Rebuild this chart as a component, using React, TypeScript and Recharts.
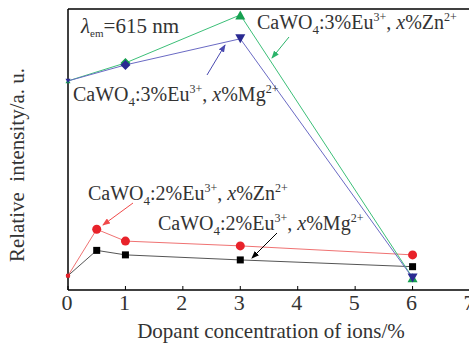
import React from 'react';
import { LineChart, Line, XAxis, YAxis, ReferenceLine } from 'recharts';

// x positions (dopant %, ions)
const xHigh = [0, 1, 3, 6];
const xLow = [0, 0.5, 1, 3, 6];
const xTicks = [0, 1, 2, 3, 4, 5, 6, 7];

// relative intensity (0..100 frame height)
const znHigh = [74.4, 80.8, 97.9, 4.4]; // CaWO4:3%Eu3+, x%Zn2+
const mgHigh = [74.4, 80.1, 89.4, 4.3]; // CaWO4:3%Eu3+, x%Mg2+
const znLow = [5.1, 21.6, 17.4, 15.7, 12.5]; // CaWO4:2%Eu3+, x%Zn2+
const mgLow = [5.1, 14.1, 12.5, 10.7, 8.3]; // CaWO4:2%Eu3+, x%Mg2+

const toRows = (xs: number[], ys: number[]) => xs.map((x, i) => ({ x, y: ys[i] }));

const FONT = '"Liberation Serif", "Times New Roman", serif';
const TEXT = '#333';

const W = 480;
const H = 346;
const margin = { top: 9, right: 10, bottom: 26, left: 68 };

type Shape = 'up' | 'down' | 'diamond' | 'circle' | 'square';

const Marker = ({ cx, cy, shape, fill, small }: { cx: number; cy: number; shape: Shape; fill: string; small?: boolean }) => {
  const s = small ? 0.5 : 1;
  if (shape === 'circle') return <circle cx={cx} cy={cy} r={4.5 * s} fill={fill} />;
  if (shape === 'square') return <rect x={cx - 3.5 * s} y={cy - 3.5 * s} width={7 * s} height={7 * s} fill={fill} />;
  if (shape === 'diamond') {
    const a = 5 * s;
    return <polygon points={`${cx},${cy - a} ${cx + a},${cy} ${cx},${cy + a} ${cx - a},${cy}`} fill={fill} />;
  }
  const w = 5 * s;
  const h = 4.5 * s;
  if (shape === 'up') return <polygon points={`${cx},${cy - h} ${cx + w},${cy + h} ${cx - w},${cy + h}`} fill={fill} />;
  return <polygon points={`${cx - w},${cy - h} ${cx + w},${cy - h} ${cx},${cy + h}`} fill={fill} />;
};

const makeDot = (base: Shape, fill: string, special?: { x: number; shape: Shape }) => (props: any) => {
  const { cx, cy, payload, index } = props;
  if (cx == null || cy == null) return <g key={index} />;
  const shape = special && payload.x === special.x ? special.shape : base;
  return (
    <g key={index}>
      <Marker cx={cx} cy={cy} shape={shape} fill={fill} small={payload.x === 0} />
    </g>
  );
};

// ticks point inward, label under the axis
const XTick = (props: any) => {
  const { x, y, payload } = props;
  return (
    <g>
      <line x1={x} x2={x} y1={y} y2={y - 4} stroke="#000" strokeWidth={1} />
      <text x={x - 1} y={y + 20} textAnchor="middle" fontSize={22} fontFamily={FONT} fill={TEXT}>
        {payload.value}
      </text>
    </g>
  );
};

const Chem = ({ x, y, pct, ion }: { x: number; y: number; pct: string; ion: string }) => (
  <text x={x} y={y} fontSize={20} fontFamily={FONT} fill={TEXT}>
    CaWO
    <tspan fontSize={13} dy={5}>4</tspan>
    <tspan dy={-5}>:{pct}%Eu</tspan>
    <tspan fontSize={12} dy={-8}>3+</tspan>
    <tspan dy={8}>, </tspan>
    <tspan fontStyle="italic">x</tspan>
    <tspan>%{ion}</tspan>
    <tspan fontSize={12} dy={-8}>2+</tspan>
  </text>
);

const Arrow = ({ x1, y1, x2, y2, color, id }: { x1: number; y1: number; x2: number; y2: number; color: string; id: string }) => (
  <line x1={x1} y1={y1} x2={x2} y2={y2} stroke={color} strokeWidth={1} markerEnd={`url(#${id})`} />
);

export default function App() {
  return (
    <div style={{ position: 'absolute', left: 0, top: 0, width: 469, height: 346, overflow: 'hidden', background: '#fff' }}>
      <LineChart width={W} height={H} margin={margin}>
        <XAxis
          dataKey="x"
          type="number"
          domain={[0, 7]}
          ticks={xTicks}
          height={30}
          axisLine={{ stroke: '#000', strokeWidth: 1.5 }}
          tickLine={false}
          tickSize={0}
          tickMargin={0}
          tick={<XTick />}
          interval={0}
          allowDuplicatedCategory={false}
        />
        <YAxis type="number" domain={[0, 100]} hide />
        <ReferenceLine x={0} stroke="#000" strokeWidth={1.5} />
        <ReferenceLine y={100} stroke="#000" strokeWidth={1.5} />

        <Line data={toRows(xLow, mgLow)} dataKey="y" type="linear" stroke="#555" strokeWidth={1}
          dot={makeDot('square', '#000')} isAnimationActive={false} />
        <Line data={toRows(xLow, znLow)} dataKey="y" type="linear" stroke="#f07272" strokeWidth={1}
          dot={makeDot('circle', '#e8222a')} isAnimationActive={false} />
        <Line data={toRows(xHigh, znHigh)} dataKey="y" type="linear" stroke="#3cbf78" strokeWidth={1}
          dot={makeDot('up', '#16a050', { x: 1, shape: 'diamond' })} isAnimationActive={false} />
        <Line data={toRows(xHigh, mgHigh)} dataKey="y" type="linear" stroke="#6a6ac4" strokeWidth={1}
          dot={makeDot('down', '#2a2a92', { x: 1, shape: 'diamond' })} isAnimationActive={false} />
      </LineChart>

      <svg width={469} height={346} style={{ position: 'absolute', left: 0, top: 0, pointerEvents: 'none' }}>
        <defs>
          {[
            ['ah-green', '#2bb36a'],
            ['ah-blue', '#4a4ab0'],
            ['ah-red', '#f04a4a'],
            ['ah-black', '#000'],
          ].map(([id, c]) => (
            <marker key={id} id={id} markerWidth={8} markerHeight={6} refX={7} refY={3} orient="auto" markerUnits="userSpaceOnUse">
              <polygon points="0,0 8,3 0,6" fill={c} />
            </marker>
          ))}
        </defs>

        <text x={81} y={33} fontSize={21} fontFamily={FONT} fill={TEXT}>
          <tspan fontStyle="italic">λ</tspan>
          <tspan fontSize={11} dy={4}>em</tspan>
          <tspan dy={-4}>=615 nm</tspan>
        </text>

        <Chem x={257} y={29} pct="3" ion="Zn" />
        <Chem x={73} y={101} pct="3" ion="Mg" />
        <Chem x={88} y={200} pct="2" ion="Zn" />
        <Chem x={158} y={230} pct="2" ion="Mg" />

        <Arrow x1={289} y1={37} x2={272} y2={58} color="#2bb36a" id="ah-green" />
        <Arrow x1={207} y1={75} x2={225} y2={45} color="#4a4ab0" id="ah-blue" />
        <Arrow x1={133} y1={203} x2={103} y2={225} color="#f04a4a" id="ah-red" />
        <Arrow x1={277} y1={233} x2={252} y2={258} color="#000" id="ah-black" />

        <text x={271} y={338} textAnchor="middle" fontSize={21} fontFamily={FONT} fill={TEXT}>
          Dopant concentration of ions/%
        </text>
        <text
          x={0}
          y={0}
          transform="translate(24,165) rotate(-90)"
          textAnchor="middle"
          fontSize={21}
          fontFamily={FONT}
          fill={TEXT}
          style={{ whiteSpace: 'pre' }}
        >
          {'Relative  intensity/a. u.'}
        </text>
      </svg>
    </div>
  );
}
